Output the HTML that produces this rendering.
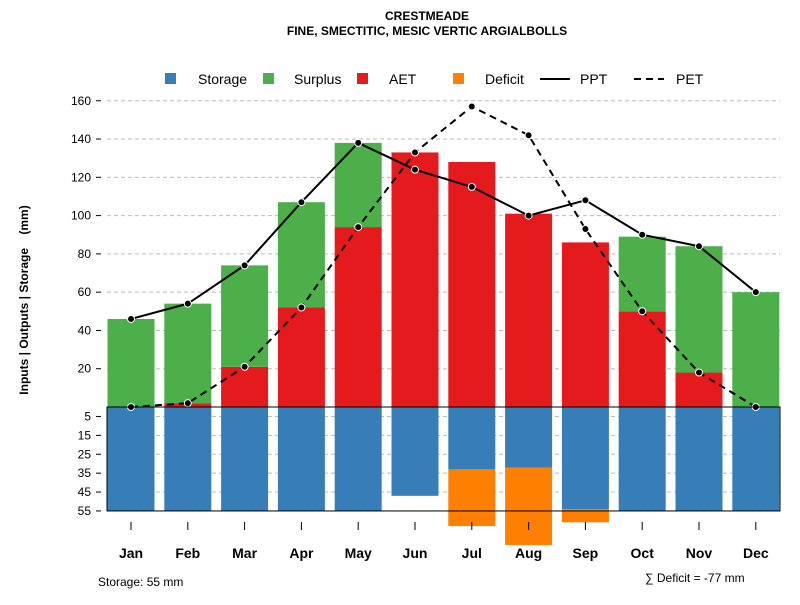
<!DOCTYPE html>
<html><head><meta charset="utf-8"><style>
body{margin:0;background:#fff;font-family:"Liberation Sans",sans-serif}
</style></head><body>
<svg id="c" width="800" height="600" xmlns="http://www.w3.org/2000/svg" font-family="Liberation Sans, sans-serif">
<text x="427" y="20" text-anchor="middle" font-size="12" font-weight="bold">CRESTMEADE</text>
<text x="427" y="35" text-anchor="middle" font-size="12" font-weight="bold">FINE, SMECTITIC, MESIC VERTIC ARGIALBOLLS</text>
<g id="grid"></g><g id="bars"></g><g id="lines"></g><g id="axes"></g>
<g font-size="14">
<rect x="165" y="73" width="11" height="11" fill="#377eb8"/><text x="198" y="84">Storage</text>
<rect x="263" y="73" width="11" height="11" fill="#4daf4a"/><text x="294" y="84">Surplus</text>
<rect x="357" y="73" width="11" height="11" fill="#e41a1c"/><text x="389" y="84">AET</text>
<rect x="453" y="73" width="11" height="11" fill="#ff7f00"/><text x="485" y="84">Deficit</text>
<line x1="540" y1="79" x2="570" y2="79" stroke="#000" stroke-width="2"/><text x="580" y="84">PPT</text>
<line x1="634" y1="79" x2="664" y2="79" stroke="#000" stroke-width="2" stroke-dasharray="7,5"/><text x="676" y="84">PET</text>
</g>
<text x="98" y="586" font-size="12">Storage: 55 mm</text>
<text x="645" y="582" font-size="12">∑ Deficit = -77 mm</text>
<text transform="translate(28,300) rotate(-90)" text-anchor="middle" font-size="12" font-weight="bold">Inputs | Outputs | Storage&#160;&#160;&#160;&#160;(mm)</text>
</svg>
<script>
const months=["Jan","Feb","Mar","Apr","May","Jun","Jul","Aug","Sep","Oct","Nov","Dec"];
const storage=[55,55,55,55,55,47,33,32,54,55,55,55];
const deficit=[0,0,0,0,0,0,30,41,7,0,0,0];
const aet=[0,2,21,52,94,133,128,101,86,50,18,0];
const surplus=[46,52,53,55,44,0,0,0,0,39,66,60];
const ppt=[46,54,74,107,138,124,115,100,108,90,84,60];
const pet=[0,2,21,52,94,133,157,142,93,50,18,0];
const upTicks=[20,40,60,80,100,120,140,160];
const lowTicks=[5,15,25,35,45,55];
const ns="http://www.w3.org/2000/svg";
const X0=107,X1=780,Y0=407;
const xc=i=>131+i*56.8;
const yU=v=>Y0-v*1.914;
const yL=v=>Y0+v*1.89;
function mk(p,t,a){const e=document.createElementNS(ns,t);for(const k in a)e.setAttribute(k,a[k]);document.getElementById(p).appendChild(e);return e;}
upTicks.forEach(v=>{const g=mk("grid","line",{x1:X0,x2:X1,y1:yU(v),y2:yU(v),stroke:"#bbb","stroke-dasharray":"4,3"});


const t=mk("axes","text",{x:91,y:yU(v)+4,"text-anchor":"end","font-size":"12"});t.textContent=v;


mk("axes","line",{x1:96,x2:101,y1:yU(v),y2:yU(v),stroke:"#000"});});
lowTicks.forEach(v=>{const g=mk("grid","line",{x1:X0,x2:X1,y1:yL(v),y2:yL(v),stroke:"#bbb","stroke-dasharray":"4,3"});


const t=mk("axes","text",{x:91,y:yL(v)+4,"text-anchor":"end","font-size":"12"});t.textContent=v;


mk("axes","line",{x1:96,x2:101,y1:yL(v),y2:yL(v),stroke:"#000"});});
const bw=47;
months.forEach((m,i)=>{
 const x=xc(i)-bw/2;
 let r=mk("bars","rect",{x:x,y:Y0,width:bw,height:storage[i]*1.89,fill:"#377eb8"});
 
 
 if(deficit[i]>0){r=mk("bars","rect",{x:x,y:yL(storage[i]),width:bw,height:deficit[i]*1.89,fill:"#ff7f00"});
 
 }
 r=mk("bars","rect",{x:x,y:yU(aet[i]),width:bw,height:aet[i]*1.914,fill:"#e41a1c"});
 
 
 r=mk("bars","rect",{x:x,y:yU(aet[i]+surplus[i]),width:bw,height:surplus[i]*1.914,fill:"#4daf4a"});
 
 
 mk("axes","line",{x1:xc(i),x2:xc(i),y1:522,y2:530,stroke:"#000"});
 const t=mk("axes","text",{x:xc(i),y:558,"text-anchor":"middle","font-size":"14","font-weight":"bold"});t.textContent=m;
 
 
});
const box=mk("axes","rect",{x:X0,y:Y0,width:X1-X0,height:55*1.89,fill:"none",stroke:"#000"});


function line(d,nm,dash){const p=mk("lines","polyline",{points:d.map((v,i)=>xc(i)+","+yU(v)).join(" "),fill:"none",stroke:"#000","stroke-width":"2","stroke-dasharray":dash});


d.forEach((v,i)=>{const c=mk("lines","circle",{cx:xc(i),cy:yU(v),r:3.5,fill:"#000",stroke:"#fff","stroke-width":"1"});

});}
line(pet,"pet","7,5");line(ppt,"ppt","none");
</script>
</body></html>
